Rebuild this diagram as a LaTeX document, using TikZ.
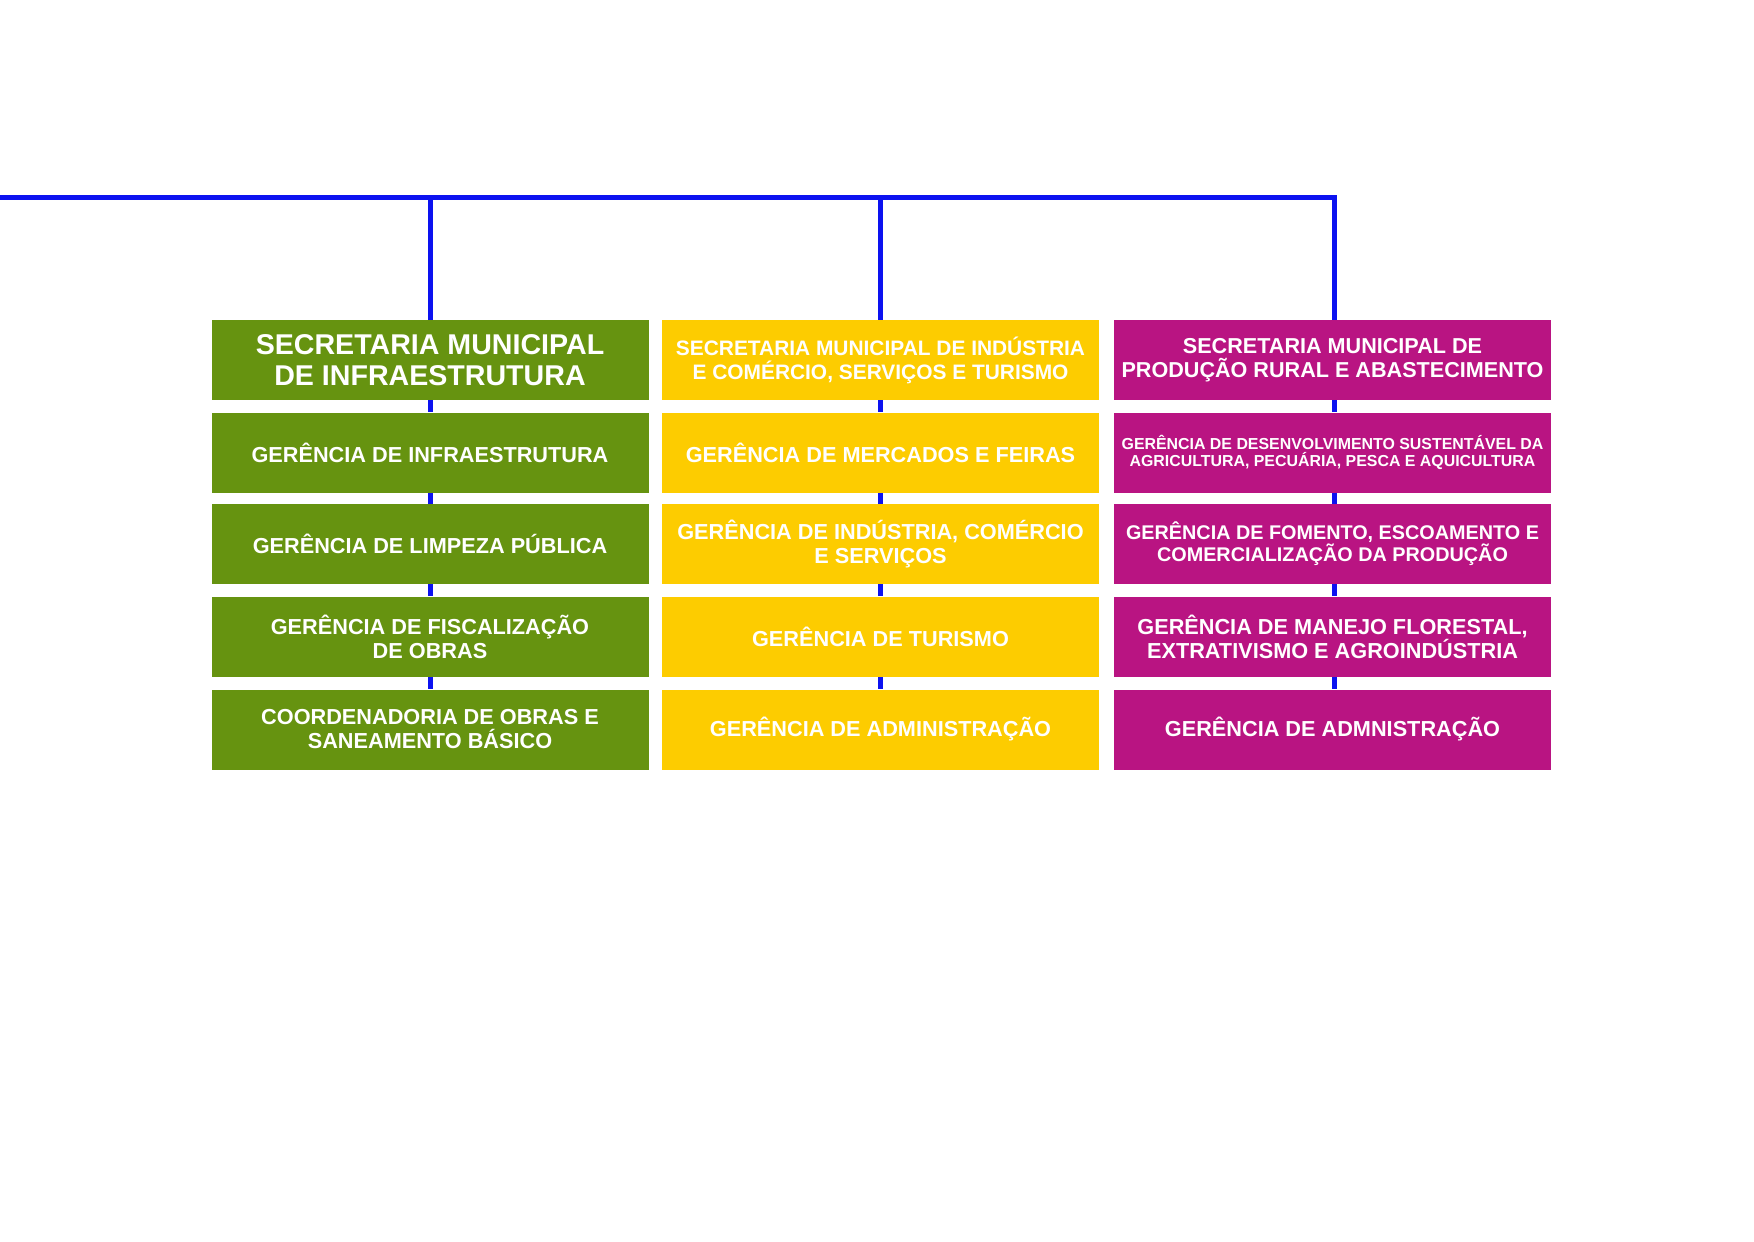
\documentclass[tikz,border=0pt]{standalone}
\usepackage{fontspec}
\setmainfont{Liberation Sans}
\definecolor{cgreen}{RGB}{102,147,16}
\definecolor{cyellow}{RGB}{253,204,0}
\definecolor{cmagenta}{RGB}{185,20,130}
\definecolor{cblue}{RGB}{12,18,240}
\tikzset{
  box/.style={rectangle, inner sep=0pt, minimum width=218.5pt, minimum height=40pt,
    text=white, font=\bfseries\fontsize{10.85}{12}\selectfont, align=center},
  gbox/.style={box, fill=cgreen},
  ybox/.style={box, fill=cyellow},
  mbox/.style={box, fill=cmagenta},
  conn/.style={draw=cblue, line width=2.5pt},
}
\begin{document}
\begin{tikzpicture}[x=0.5pt,y=-0.5pt]
\useasboundingbox (0,0) rectangle (1754,1241);
% coordinates for the bus
\coordinate (start) at (0,197.5);
\coordinate (j1) at (430,197.5);
\coordinate (j2) at (880,197.5);
\coordinate (j3) at (1334,197.5);
% column 1
\node[gbox, font=\bfseries\fontsize{14.3}{15.8}\selectfont] (g1) at (430,360) {SECRETARIA MUNICIPAL\\DE INFRAESTRUTURA};
\node[gbox] (g2) at (430,452.5) {GERÊNCIA DE INFRAESTRUTURA};
\node[gbox] (g3) at (430,544) {GERÊNCIA DE LIMPEZA PÚBLICA};
\node[gbox] (g4) at (430,636.5) {GERÊNCIA DE FISCALIZAÇÃO\\DE OBRAS};
\node[gbox] (g5) at (430,729.5) {COORDENADORIA DE OBRAS E\\SANEAMENTO BÁSICO};
% column 2
\node[ybox, font=\bfseries\fontsize{10.45}{12}\selectfont] (y1) at (880.5,360) {SECRETARIA MUNICIPAL DE INDÚSTRIA\\E COMÉRCIO, SERVIÇOS E TURISMO};
\node[ybox] (y2) at (880.5,452.5) {GERÊNCIA DE MERCADOS E FEIRAS};
\node[ybox] (y3) at (880.5,544) {GERÊNCIA DE INDÚSTRIA, COMÉRCIO\\E SERVIÇOS};
\node[ybox] (y4) at (880.5,636.5) {GERÊNCIA DE TURISMO};
\node[ybox] (y5) at (880.5,729.5) {GERÊNCIA DE ADMINISTRAÇÃO};
% column 3
\node[mbox, font=\bfseries\fontsize{10.8}{11.8}\selectfont] (m1) at (1332.5,360) {SECRETARIA MUNICIPAL DE\\PRODUÇÃO RURAL E ABASTECIMENTO};
\node[mbox, font=\bfseries\fontsize{7.95}{8.9}\selectfont] (m2) at (1332.5,452.5) {GERÊNCIA DE DESENVOLVIMENTO SUSTENTÁVEL DA\\AGRICULTURA, PECUÁRIA, PESCA E AQUICULTURA};
\node[mbox, font=\bfseries\fontsize{9.9}{10.9}\selectfont] (m3) at (1332.5,544) {GERÊNCIA DE FOMENTO, ESCOAMENTO E\\COMERCIALIZAÇÃO DA PRODUÇÃO};
\node[mbox] (m4) at (1332.5,636.5) {GERÊNCIA DE MANEJO FLORESTAL,\\EXTRATIVISMO E AGROINDÚSTRIA};
\node[mbox] (m5) at (1332.5,729.5) {GERÊNCIA DE ADMNISTRAÇÃO};
% connectors
\draw[conn] (start) -- ([xshift=1.25pt]j3);
\draw[conn] (j1) -- (g1.north -| j1);
\draw[conn] (j2) -- (y1.north -| j2);
\draw[conn] (j3) -- (m1.north -| j3);
\foreach \a/\b in {g1/g2,g2/g3,g3/g4,g4/g5}{\draw[conn] (\a.south) -- (\b.north);}
\foreach \a/\b in {y1/y2,y2/y3,y3/y4,y4/y5}{\draw[conn] ([xshift=-0.25pt]\a.south) -- ([xshift=-0.25pt]\b.north);}
\foreach \a/\b in {m1/m2,m2/m3,m3/m4,m4/m5}{\draw[conn] ([xshift=0.75pt]\a.south) -- ([xshift=0.75pt]\b.north);}
\end{tikzpicture}
\end{document}
